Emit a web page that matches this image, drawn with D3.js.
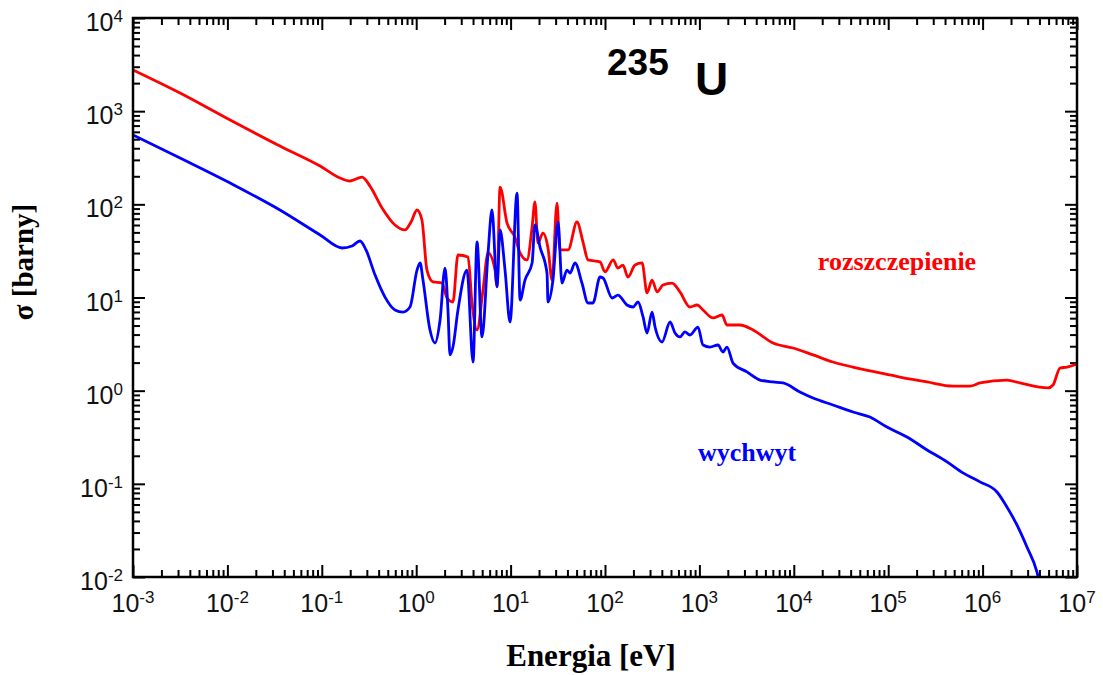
<!DOCTYPE html>
<html>
<head>
<meta charset="utf-8">
<script src="https://cdn.jsdelivr.net/npm/d3@7"></script>
<style>
  body { margin: 0; background: #fff; }
  .tick line { stroke: #000; stroke-width: 2; }
</style>
</head>
<body>
<div id="chart"></div>
<script>
// fission cross section of U-235 (energy in eV, sigma in barns)
const fissionEnergy = [1e-3, 3.15e-3, 1.07e-2, 3.6e-2, 9.6e-2, 0.156, 0.199, 0.267, 0.324, 0.435, 0.596, 0.760, 0.881,
  1.02, 1.15, 1.30, 1.51, 1.88, 2.12, 2.45, 2.77, 3.54, 3.90, 4.41, 5.10, 5.77, 6.84, 7.18, 7.73, 9.16,
  11.1, 12.6, 14.9, 16.9, 18.1, 19.5, 22.0, 24.9, 27.5, 31.0, 33.3, 40.6, 50.5, 58.5, 66.1, 88.5,
  100, 122, 137, 155, 175, 208, 247, 279, 315, 356, 411, 513, 622, 794, 944,
  1091, 1393, 1734, 1959, 2692, 3698, 6026, 9817, 1.6e4, 2.6e4, 4.24e4, 8.18e4,
  1.33e5, 2.58e5, 4.85e5, 7.36e5, 9.38e5, 1.81e6, 2.49e6, 4.93e6, 5.57e6, 6.61e6, 7.83e6, 1e7];
const fissionSigma = [2770, 1567, 804, 423, 258, 192, 178, 196, 157, 91.4, 60.0, 53.1, 64.6,
  86.9, 67.9, 19.7, 14.7, 14.3, 9.88, 8.95, 28.6, 27.2, 8.73, 4.48, 12.0, 30.1, 19.7, 13.0, 153, 63.1,
  44.6, 30.1, 25.3, 57.1, 106, 38.5, 49.2, 34.0, 15.4, 103, 32.4, 32.4, 64.6, 39.4, 25.3, 24.1,
  18.8, 25.3, 20.7, 22.3, 16.6, 22.3, 23.5, 11.2, 15.4, 11.5, 13.6, 14.3, 11.5, 7.91, 8.31,
  7.35, 6.03, 6.49, 5.07, 5.07, 4.48, 3.25, 2.87, 2.42, 2.03, 1.79, 1.55,
  1.40, 1.24, 1.12, 1.12, 1.21, 1.30, 1.21, 1.07, 1.15, 1.75, 1.79, 1.93];

// radiative capture cross section
const captureEnergy = [1e-3, 3.15e-3, 1.07e-2, 3.6e-2, 9.6e-2, 0.164, 0.209, 0.254, 0.294, 0.366, 0.467, 0.596, 0.724, 0.859,
  1.02, 1.10, 1.18, 1.40, 1.58, 1.79, 2.02, 2.17, 2.28, 2.45, 2.77, 3.45, 4.00, 4.41, 4.98, 5.77, 6.35, 7.18, 7.73, 8.73, 9.86,
  11.7, 12.6, 14.2, 16.9, 18.1, 20.5, 24.3, 24.9, 28.1, 31.8, 35.0, 39.5, 42.6, 48.1, 57.0, 66.1, 74.6, 88.5, 95.3,
  119, 137, 171, 198, 224, 253, 279, 315, 339, 402, 489, 552, 622, 703, 794, 966,
  1091, 1294, 1574, 1778, 1959, 2270, 3192, 4385, 6026, 7691, 1.16e4, 1.6e4, 2.6e4, 4.24e4, 6.41e4, 9.7e4,
  1.58e5, 2.58e5, 4.2e5, 6.19e5, 9.38e5, 1.42e6, 1.81e6, 2.31e6, 2.95e6, 3.77e6, 4.06e6];
const captureSigma = [555, 314, 169, 86.9, 46.9, 34.0, 35.7, 40.4, 32.4, 17.5, 10.1, 7.35, 6.98, 7.91,
  19.7, 23.5, 15.4, 4.48, 3.25, 5.74, 20.7, 7.35, 2.42, 2.94, 7.35, 19.7, 2.03, 39.4, 3.77, 30.1, 86.9, 13.0, 53.1, 19.7, 5.46,
  132, 9.40, 15.4, 23.5, 60.0, 34.8, 18.3, 8.95, 15.4, 64.6, 14.3, 19.7, 18.3, 23.5, 14.3, 8.73, 8.73, 16.6, 16.2,
  9.88, 10.6, 8.31, 7.91, 8.95, 6.18, 4.16, 6.98, 4.82, 3.33, 5.46, 4.16, 3.77, 4.27, 3.96, 4.82,
  3.09, 2.94, 3.09, 2.60, 2.94, 1.98, 1.59, 1.30, 1.24, 1.21, 0.968, 0.834, 0.702, 0.590, 0.521, 0.407,
  0.318, 0.231, 0.172, 0.131, 0.105, 0.0817, 0.0565, 0.0362, 0.0210, 0.0113, 0.0082];

const xDecades = [-3, -2, -1, 0, 1, 2, 3, 4, 5, 6, 7];
const yDecades = [-2, -1, 0, 1, 2, 3, 4];

const width = 1103, height = 675;
const plot = {left: 133, right: 1077, top: 18, bottom: 577};

const svg = d3.select("#chart").append("svg")
    .attr("width", width)
    .attr("height", height);

const x = d3.scaleLog().domain([1e-3, 1e7]).range([plot.left, plot.right]);
const y = d3.scaleLog().domain([1e-2, 1e4]).range([plot.bottom, plot.top]);

function minorTicks(decades) {
    let out = [];
    for (let i = 0; i < decades.length - 1; i++) {
        for (let k = 2; k <= 9; k++) out.push(k * Math.pow(10, decades[i]));
    }
    return out;
}
const xMajor = xDecades.map(e => Math.pow(10, e));
const yMajor = yDecades.map(e => Math.pow(10, e));

function addAxis(gen, transform, values, size) {
    let g = svg.append("g")
        .attr("transform", transform)
        .call(gen.tickValues(values).tickSize(-size).tickFormat(""));
    g.select(".domain").remove();
}
addAxis(d3.axisBottom(x), `translate(0,${plot.bottom})`, minorTicks(xDecades), 7);
addAxis(d3.axisBottom(x), `translate(0,${plot.bottom})`, xMajor, 12);
addAxis(d3.axisTop(x), `translate(0,${plot.top})`, minorTicks(xDecades), 7);
addAxis(d3.axisTop(x), `translate(0,${plot.top})`, xMajor, 12);
addAxis(d3.axisLeft(y), `translate(${plot.left},0)`, minorTicks(yDecades), 7);
addAxis(d3.axisLeft(y), `translate(${plot.left},0)`, yMajor, 12);
addAxis(d3.axisRight(y), `translate(${plot.right},0)`, minorTicks(yDecades), 7);
addAxis(d3.axisRight(y), `translate(${plot.right},0)`, yMajor, 12);

// tick labels 10^n
svg.selectAll(".xlab")
    .data(xDecades)
    .enter()
    .append("text")
    .attr("x", d => x(Math.pow(10, d)))
    .attr("y", 612)
    .attr("text-anchor", "middle")
    .style("font-family", "'Liberation Sans', Arial, sans-serif")
    .style("font-size", "25px")
    .attr("fill", "#111")
    .each(function (d) {
        let t = d3.select(this);
        t.append("tspan").text("10");
        t.append("tspan").attr("dy", -9).style("font-size", "17px").text(d < 0 ? "-" + (-d) : d);
    });

svg.selectAll(".ylab")
    .data(yDecades)
    .enter()
    .append("text")
    .attr("x", 123)
    .attr("y", d => y(Math.pow(10, d)) + 13)
    .attr("text-anchor", "end")
    .style("font-family", "'Liberation Sans', Arial, sans-serif")
    .style("font-size", "25px")
    .attr("fill", "#111")
    .each(function (d) {
        let t = d3.select(this);
        t.append("tspan").text("10");
        t.append("tspan").attr("dy", -9).style("font-size", "17px").text(d < 0 ? "-" + (-d) : d);
    });

// curves
svg.append("clipPath").attr("id", "clip")
    .append("rect")
    .attr("x", plot.left).attr("y", plot.top)
    .attr("width", plot.right - plot.left).attr("height", plot.bottom - plot.top);

const line = d3.line()
    .x(d => x(d[0]))
    .y(d => y(d[1]))
    .curve(d3.curveMonotoneX);

svg.append("path")
    .datum(d3.zip(fissionEnergy, fissionSigma))
    .attr("clip-path", "url(#clip)")
    .attr("fill", "none")
    .attr("stroke", "#ff0000")
    .attr("stroke-width", 2.8)
    .attr("stroke-linejoin", "round")
    .attr("d", line);

svg.append("path")
    .datum(d3.zip(captureEnergy, captureSigma))
    .attr("clip-path", "url(#clip)")
    .attr("fill", "none")
    .attr("stroke", "#0000ff")
    .attr("stroke-width", 2.8)
    .attr("stroke-linejoin", "round")
    .attr("d", line);

// frame
svg.append("rect")
    .attr("x", plot.left).attr("y", plot.top)
    .attr("width", plot.right - plot.left).attr("height", plot.bottom - plot.top)
    .attr("fill", "none")
    .attr("stroke", "#000")
    .attr("stroke-width", 2.5);

// title
svg.append("text")
    .attr("x", 607).attr("y", 75)
    .style("font-family", "'Liberation Sans', Arial, sans-serif")
    .style("font-weight", "bold")
    .style("font-size", "37px")
    .text("235");
svg.append("text")
    .attr("x", 695).attr("y", 95)
    .style("font-family", "'Liberation Sans', Arial, sans-serif")
    .style("font-weight", "bold")
    .style("font-size", "46px")
    .text("U");

// series labels
svg.append("text")
    .attr("x", 897).attr("y", 270)
    .attr("text-anchor", "middle")
    .style("font-family", "'Liberation Serif', 'Times New Roman', serif")
    .style("font-weight", "bold")
    .style("font-size", "26px")
    .attr("fill", "#ff0000")
    .text("rozszczepienie");
svg.append("text")
    .attr("x", 747).attr("y", 461)
    .attr("text-anchor", "middle")
    .style("font-family", "'Liberation Serif', 'Times New Roman', serif")
    .style("font-weight", "bold")
    .style("font-size", "26px")
    .attr("fill", "#0000ff")
    .text("wychwyt");

// axis titles
svg.append("text")
    .attr("x", 591).attr("y", 666)
    .attr("text-anchor", "middle")
    .style("font-family", "'Liberation Serif', 'Times New Roman', serif")
    .style("font-weight", "bold")
    .style("font-size", "31px")
    .text("Energia [eV]");
svg.append("text")
    .attr("transform", "translate(33,262) rotate(-90)")
    .attr("text-anchor", "middle")
    .style("font-family", "'Liberation Serif', 'Times New Roman', serif")
    .style("font-weight", "bold")
    .style("font-size", "29px")
    .text("σ [barny]");
</script>
</body>
</html>
